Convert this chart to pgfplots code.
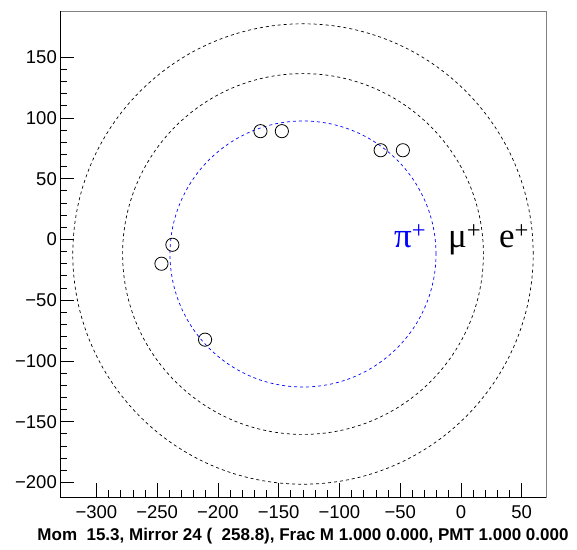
\documentclass[border=0pt]{standalone}
\usepackage{pgfplots}
\pgfplotsset{compat=1.18}
\usepackage{fontspec}
\setmainfont{Liberation Sans}
\newfontfamily\serif{Liberation Serif}
\begin{document}
\begin{tikzpicture}[x=1pt,y=1pt]
\useasboundingbox (-60,-52) rectangle (517,497);
\begin{axis}[
  at={(0,0)}, anchor=south west,
  width=486pt, height=486pt, scale only axis,
  xmin=-330, xmax=70, ymin=-212, ymax=188,
  xtick={-300,-250,...,50},
  xticklabels={−300,−250,−200,−150,−100,−50,0,50},
  ytick={-200,-150,...,150},
  yticklabels={−200,−150,−100,−50,0,50,100,150},
  minor tick num=4,
  tick align=inside, tick pos=left,
  major tick length=14pt, minor tick length=7pt,
  every tick/.style={black, line width=0.8pt},
  xticklabel style={font=\fontsize{18.5}{18.5}\selectfont, anchor=base, yshift=-21.5pt, inner sep=0pt},
  yticklabel style={font=\fontsize{18.5}{18.5}\selectfont, anchor=east, xshift=-3pt, inner sep=0pt},
  axis line style={draw=black!50, line width=0.8pt},
  clip=false,
  xlabel={Mom\ \ 15.3, Mirror 24 (\ \ 258.8), Frac M 1.000 0.000, PMT 1.000 0.000},
  xlabel style={at={(axis description cs:0.5,0)}, anchor=base, yshift=-43.7pt, font=\bfseries\fontsize{17}{17}\selectfont, inner sep=0pt},
]
\draw[black, line width=0.9pt] (rel axis cs:0,1) -- (rel axis cs:0,0) -- (rel axis cs:1,0);
% rings (center, radius converted to pt: 1.215 pt per unit)
\addplot[only marks, mark=o, mark size=230.2pt, mark options={draw=black, line width=0.7pt, dash pattern=on 3pt off 3pt}] coordinates {(-130,-12)};
\addplot[only marks, mark=o, mark size=180.4pt, mark options={draw=black, line width=0.7pt, dash pattern=on 3pt off 3pt}] coordinates {(-130,-12)};
\addplot[only marks, mark=o, mark size=133.0pt, mark options={draw=blue, line width=0.7pt, dash pattern=on 3pt off 3pt}] coordinates {(-130,-12)};
% hits
\addplot[only marks, mark=o, mark size=6.6pt, mark options={draw=black, line width=0.8pt}] coordinates {
(-165,89.1) (-147.4,89.1) (-66.1,73.4) (-47.8,73.4) (-237.5,-4.4) (-246.5,-20) (-210.6,-82.5)};
\node[anchor=base west, inner sep=0pt, text=blue, font=\serif\fontsize{35}{35}\selectfont] at (axis cs:-55.2,-6.3) {π\textsuperscript{+}};
\node[anchor=base west, inner sep=0pt, text=black, font=\serif\fontsize{35}{35}\selectfont] at (axis cs:-10.7,-6.3) {μ\textsuperscript{+}};
\node[anchor=base west, inner sep=0pt, text=black, font=\serif\fontsize{35}{35}\selectfont] at (axis cs:31.3,-6.3) {e\textsuperscript{+}};
\end{axis}
\end{tikzpicture}
\end{document}
